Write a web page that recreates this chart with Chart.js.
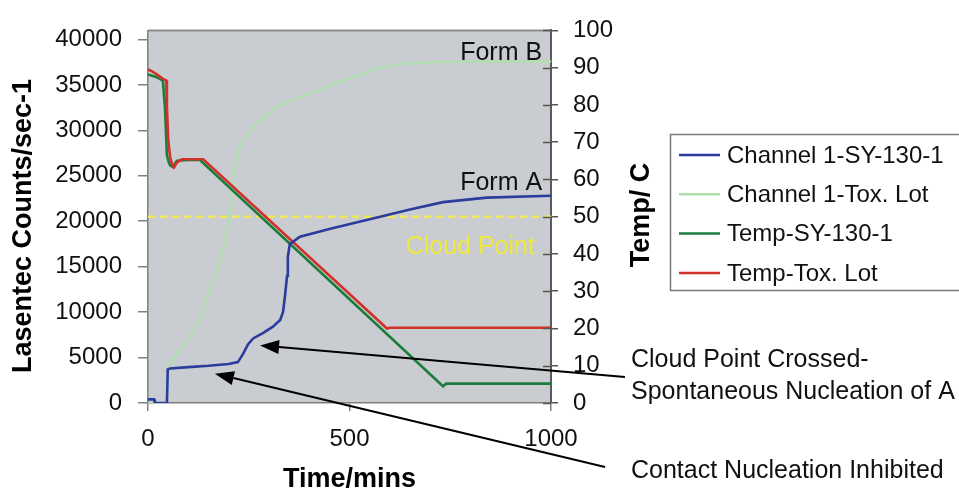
<!DOCTYPE html>
<html>
<head>
<meta charset="utf-8">
<script src="https://cdn.jsdelivr.net/npm/chart.js@4.4.0/dist/chart.umd.min.js"></script>
<style>
html,body{margin:0;padding:0;background:#fff;}
#wrap{width:959px;height:496px;position:relative;}
</style>
</head>
<body>
<div id="wrap"><canvas id="c" width="959" height="496"></canvas></div>
<script>
const FONT = "'Liberation Sans', Arial, Helvetica, sans-serif";

// ---- tick labels ----
const xTicks = [0, 500, 1000];
const countTicks = [0, 5000, 10000, 15000, 20000, 25000, 30000, 35000, 40000];
const tempTicks = [0, 10, 20, 30, 40, 50, 60, 70, 80, 90, 100];

// ---- axis titles ----
const xTitle = 'Time/mins';
const countTitle = 'Lasentec Counts/sec-1';
const tempTitle = 'Temp/ C';

// ---- series names ----
const seriesNames = ['Channel 1-SY-130-1', 'Channel 1-Tox. Lot', 'Temp-SY-130-1', 'Temp-Tox. Lot'];
const seriesColors = ['#2a3c9c', '#aee0ac', '#1a7d3c', '#d2302a'];

// ---- Channel 1-SY-130-1 (counts/sec, left axis) ----
const ch1SyTime   = [0, 15, 17, 47, 49, 55, 100, 150, 200, 223, 236, 248, 261, 285, 310, 328, 335, 340, 345, 347, 352, 377, 455, 576, 650, 732, 841, 1000];
const ch1SyCounts = [400, 400, 0, 0, 3700, 3800, 3950, 4100, 4300, 4500, 5400, 6450, 7100, 7700, 8400, 9140, 10000, 11800, 14000, 16100, 17500, 18300, 19200, 20500, 21300, 22100, 22600, 22800];

// ---- Channel 1-Tox. Lot (counts/sec, left axis) ----
const ch1ToxTime   = [0, 47, 50, 55, 75, 97, 129, 154, 179, 190, 196, 203, 211, 228, 261, 320, 377, 455, 576, 625, 707, 850, 1000];
const ch1ToxCounts = [0, 0, 3500, 4300, 5600, 6800, 9250, 12500, 15700, 17500, 19000, 21100, 24700, 28300, 30400, 32600, 33650, 35000, 36900, 37300, 37500, 37600, 37600];

// ---- Temp-SY-130-1 (deg C, right axis) ----
const tempSyTime   = [0, 20, 37, 40, 42, 47, 52, 55, 62, 68, 72, 100, 129, 732, 740, 1000];
const tempSyValues = [88.2, 87.5, 86.5, 82, 79.5, 66.4, 64.5, 63.8, 63.3, 64.5, 65, 65.2, 65.2, 4.5, 5.2, 5.2];

// ---- Temp-Tox. Lot (deg C, right axis) ----
const tempToxTime   = [0, 10, 22, 37, 45, 47, 50, 55, 60, 65, 72, 84, 137, 593, 600, 1000];
const tempToxValues = [89.5, 89, 88.2, 87, 86.6, 79.5, 70.9, 65.9, 64, 63.3, 64.6, 65.4, 65.4, 20, 20.2, 20.2];

// ---- Cloud point reference line (counts/sec, left axis) ----
const cloudPointTime   = [0, 1000];
const cloudPointCounts = [20500, 20500];

function pts(xs, ys) { return xs.map((x, i) => ({x: x, y: ys[i]})); }

// annotation anchors (data space)
const notes = [
  {text: 'Form B', t: 978, c: 37750, color: '#111'},
  {text: 'Form A', t: 978, c: 23450, color: '#111'},
  {text: 'Cloud Point', t: 960, c: 16450, color: '#efe83c'}
];
const arrows = [
  {tipT: 278, tipC: 6340, tailX: 625, tailY: 377},
  {tipT: 166, tipC: 3230, tailX: 605, tailY: 467}
];
const sideNotes = [
  {text: 'Cloud Point Crossed-', x: 631, y: 367},
  {text: 'Spontaneous Nucleation of A', x: 631, y: 399},
  {text: 'Contact Nucleation Inhibited', x: 631, y: 478}
];

const decor = {
  id: 'decor',
  beforeDraw(chart) {
    const ctx = chart.ctx, a = chart.chartArea;
    ctx.save();
    ctx.fillStyle = '#ffffff';
    ctx.fillRect(0, 0, chart.width, chart.height);
    ctx.fillStyle = '#c9cdd1';
    ctx.fillRect(a.left, a.top, a.right - a.left, a.bottom - a.top);
    ctx.restore();
  },
  afterDraw(chart) {
    const ctx = chart.ctx, a = chart.chartArea;
    const sx = chart.scales.x, sy = chart.scales.y, sy1 = chart.scales.y1;
    ctx.save();
    // top border of plot
    ctx.strokeStyle = '#8c8c8c';
    ctx.lineWidth = 2;
    ctx.beginPath(); ctx.moveTo(a.left, a.top); ctx.lineTo(a.right, a.top); ctx.stroke();
    // inner half of right-axis ticks
    ctx.strokeStyle = '#555';
    ctx.lineWidth = 1.5;
    tempTicks.forEach(v => {
      const y = Math.round(sy1.getPixelForValue(v)) + 0.5;
      ctx.beginPath(); ctx.moveTo(a.right - 8, y); ctx.lineTo(a.right, y); ctx.stroke();
    });
    // vertical axis titles (both read bottom-to-top)
    ctx.fillStyle = '#000';
    ctx.font = 'bold 27px ' + FONT;
    ctx.textAlign = 'center';
    ctx.textBaseline = 'middle';
    [[countTitle, 24, 226], [tempTitle, 642, 215]].forEach(([t, x, y]) => {
      ctx.save(); ctx.translate(x, y); ctx.rotate(-Math.PI / 2); ctx.fillText(t, 0, 0); ctx.restore();
    });
    // in-plot notes
    ctx.font = '25px ' + FONT;
    ctx.textAlign = 'right';
    ctx.textBaseline = 'alphabetic';
    notes.forEach(n => {
      ctx.fillStyle = n.color;
      ctx.fillText(n.text, sx.getPixelForValue(n.t), sy.getPixelForValue(n.c));
    });
    // arrows
    ctx.strokeStyle = '#000';
    ctx.fillStyle = '#000';
    ctx.lineWidth = 2;
    arrows.forEach(ar => {
      const tx = sx.getPixelForValue(ar.tipT), ty = sy.getPixelForValue(ar.tipC);
      const ang = Math.atan2(ty - ar.tailY, tx - ar.tailX);
      const L = 19, W = 7;
      const bx = tx - L * Math.cos(ang), by = ty - L * Math.sin(ang);
      ctx.beginPath(); ctx.moveTo(ar.tailX, ar.tailY); ctx.lineTo(bx, by); ctx.stroke();
      ctx.beginPath();
      ctx.moveTo(tx, ty);
      ctx.lineTo(bx + W * Math.sin(ang), by - W * Math.cos(ang));
      ctx.lineTo(bx - W * Math.sin(ang), by + W * Math.cos(ang));
      ctx.closePath(); ctx.fill();
    });
    // side notes
    ctx.fillStyle = '#111';
    ctx.textAlign = 'left';
    ctx.font = '25px ' + FONT;
    sideNotes.forEach(s => ctx.fillText(s.text, s.x, s.y));
    // legend
    ctx.fillStyle = '#ffffff';
    ctx.fillRect(670, 134, 300, 156);
    ctx.strokeStyle = '#7a7a7a';
    ctx.lineWidth = 1.5;
    ctx.strokeRect(670.5, 134.5, 300, 156);
    ctx.font = '24px ' + FONT;
    ctx.textBaseline = 'middle';
    seriesNames.forEach((name, i) => {
      const y = 155 + i * 39.3;
      ctx.strokeStyle = seriesColors[i];
      ctx.lineWidth = 2.5;
      ctx.beginPath(); ctx.moveTo(679, y); ctx.lineTo(720, y); ctx.stroke();
      ctx.fillStyle = '#111';
      ctx.fillText(name, 727, y + 1);
    });
    ctx.restore();
  }
};

const tickFont = {family: FONT, size: 24};
const titleFont = {family: FONT, size: 27, weight: 'bold'};
const plain = v => String(v);

new Chart(document.getElementById('c'), {
  type: 'line',
  data: {
    datasets: [
      {label: seriesNames[0], data: pts(ch1SyTime, ch1SyCounts), yAxisID: 'y', borderColor: seriesColors[0], borderWidth: 2.6, pointRadius: 0, order: 0},
      {label: seriesNames[1], data: pts(ch1ToxTime, ch1ToxCounts), yAxisID: 'y', borderColor: seriesColors[1], borderWidth: 2.2, pointRadius: 0, order: 3},
      {label: seriesNames[2], data: pts(tempSyTime, tempSyValues), yAxisID: 'y1', borderColor: seriesColors[2], borderWidth: 2.6, pointRadius: 0, order: 2},
      {label: seriesNames[3], data: pts(tempToxTime, tempToxValues), yAxisID: 'y1', borderColor: seriesColors[3], borderWidth: 2.6, pointRadius: 0, order: 1},
      {label: 'Cloud Point', data: pts(cloudPointTime, cloudPointCounts), yAxisID: 'y', borderColor: '#efe85a', borderWidth: 2.5, borderDash: [7, 5], pointRadius: 0, order: 4}
    ]
  },
  options: {
    responsive: false,
    animation: false,
    devicePixelRatio: 1,
    events: [],
    layout: {padding: {left: 0, right: 298, top: 22, bottom: 0}},
    plugins: {legend: {display: false}, tooltip: {enabled: false}},
    scales: {
      x: {
        type: 'linear', position: 'bottom', min: 0, max: 1000,
        afterBuildTicks: s => { s.ticks = xTicks.map(v => ({value: v})); },
        afterFit: s => { s.height = 93; },
        grid: {drawOnChartArea: false, drawTicks: true, tickLength: 8, color: '#808080', lineWidth: 1.5},
        border: {color: '#808080', width: 1.5},
        ticks: {font: tickFont, color: '#111', padding: 14, maxRotation: 0, autoSkip: false, callback: plain},
        title: {display: true, text: xTitle, font: titleFont, color: '#000', padding: {top: 0, bottom: 0}}
      },
      y: {
        type: 'linear', position: 'left', min: 0, max: 41000,
        afterBuildTicks: s => { s.ticks = countTicks.map(v => ({value: v})); },
        afterFit: s => { s.width = 148; },
        grid: {drawOnChartArea: false, drawTicks: true, tickLength: 10, color: '#808080', lineWidth: 1.5},
        border: {color: '#808080', width: 1.5},
        ticks: {font: tickFont, color: '#111', padding: 16, autoSkip: false, callback: plain},
        title: {display: false, text: countTitle}
      },
      y1: {
        type: 'linear', position: 'right', min: 0, max: 100,
        afterBuildTicks: s => { s.ticks = tempTicks.map(v => ({value: v})); },
        afterFit: s => { s.width = 110; },
        grid: {drawOnChartArea: false, drawTicks: true, tickLength: 7, color: '#555', lineWidth: 1.5},
        border: {color: '#5a5a5a', width: 2},
        ticks: {font: tickFont, color: '#111', padding: 15, autoSkip: false, callback: plain},
        title: {display: false, text: tempTitle}
      }
    }
  },
  plugins: [decor]
});
</script>
</body>
</html>
